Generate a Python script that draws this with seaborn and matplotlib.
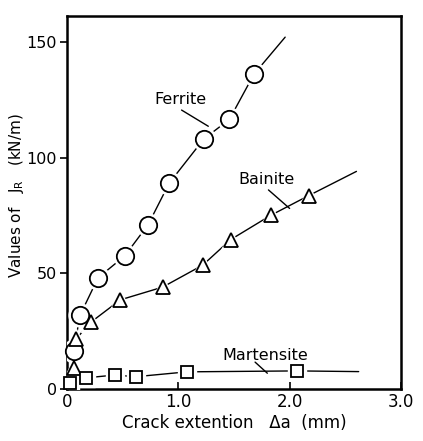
import matplotlib
matplotlib.use("Agg")
import matplotlib.pyplot as plt
import seaborn as sns
import pandas as pd

# ---- data ----
ferrite_x = [0.06, 0.12, 0.28, 0.52, 0.73, 0.92, 1.23, 1.46, 1.68]
ferrite_y = [16.5, 32, 48, 57.5, 71, 89, 108, 116.5, 136]
ferrite_end = (1.96, 152)

bainite_x = [0.06, 0.08, 0.22, 0.48, 0.86, 1.22, 1.47, 1.83, 2.17]
bainite_y = [9, 21.5, 29, 38.5, 44, 53.5, 64.5, 75, 83.5]
bainite_end = (2.60, 94)

martensite_x = [0.03, 0.17, 0.43, 0.62, 1.08, 2.07]
martensite_y = [2.5, 4.8, 6.0, 5.3, 7.4, 7.8]
martensite_end = (2.62, 7.5)

x_ticks = [0, 1.0, 2.0, 3.0]
x_tick_labels = ["0", "1.0", "2.0", "3.0"]
y_ticks = [0, 50, 100, 150]
y_tick_labels = ["0", "50", "100", "150"]

# label text positions and leader lines (data coords)
labels = ["Ferrite", "Bainite", "Martensite"]
label_xy = [(1.02, 125), (1.79, 90.5), (1.78, 14.5)]
leader_start = [(1.03, 120.5), (1.81, 86), (1.69, 11.6)]
leader_end = [(1.27, 113.5), (2.00, 78), (1.80, 6.8)]

sns.set_theme(style="white")
plt.rcParams["font.family"] = ["DejaVu Sans"]

fig = plt.figure(figsize=(4.23, 4.41), dpi=100)
ax = fig.add_axes([0.158, 0.118, 0.79, 0.845])

series = [
    ("Ferrite", ferrite_x, ferrite_y, ferrite_end, "o", 12.5),
    ("Bainite", bainite_x, bainite_y, bainite_end, "^", 10.5),
    ("Martensite", martensite_x, martensite_y, martensite_end, "s", 9),
]

for name, xs, ys, end, mk, ms in series:
    line_df = pd.DataFrame({"x": list(xs) + [end[0]], "y": list(ys) + [end[1]]})
    sns.lineplot(data=line_df, x="x", y="y", sort=False, estimator=None,
                 color="black", linewidth=1.0, ax=ax, zorder=2)
    pts = pd.DataFrame({"x": xs, "y": ys})
    # white halo to give small gaps between line and marker
    ax.plot(pts["x"], pts["y"], linestyle="none", marker=mk, markersize=ms + 4,
            markerfacecolor="white", markeredgecolor="white", zorder=3)
    ax.plot(pts["x"], pts["y"], linestyle="none", marker=mk, markersize=ms,
            markerfacecolor="white", markeredgecolor="black",
            markeredgewidth=1.3, zorder=4, clip_on=False)

for txt, (tx, ty), (sx, sy), (ex, ey) in zip(labels, label_xy, leader_start, leader_end):
    ax.text(tx, ty, txt, ha="center", va="center", fontsize=11.5, color="black")
    ax.plot([sx, ex], [sy, ey], color="black", linewidth=1.0, zorder=2)

ax.set_xlim(0, 3.0)
ax.set_ylim(0, 161)
ax.set_xticks(x_ticks)
ax.set_xticklabels(x_tick_labels)
ax.set_yticks(y_ticks)
ax.set_yticklabels(y_tick_labels)
ax.tick_params(axis="x", direction="in", length=5, width=1.2, labelsize=12,
               colors="black", pad=3)
ax.tick_params(axis="y", direction="out", length=5, width=1.2, labelsize=11.5,
               colors="black", pad=2)
ax.tick_params(bottom=True, left=True)

ax.set_xlabel("Crack extention   Δa  (mm)", fontsize=12, color="black", labelpad=2)
ax.set_ylabel("Values of   $\\mathregular{J_R}$   (kN/m)", fontsize=11,
              color="black")
ax.yaxis.set_label_coords(-0.122, 0.52)

for s in ax.spines.values():
    s.set_visible(True)
    s.set_color("black")
    s.set_linewidth(1.8)

fig.savefig("out.png", dpi=100, facecolor="white")
